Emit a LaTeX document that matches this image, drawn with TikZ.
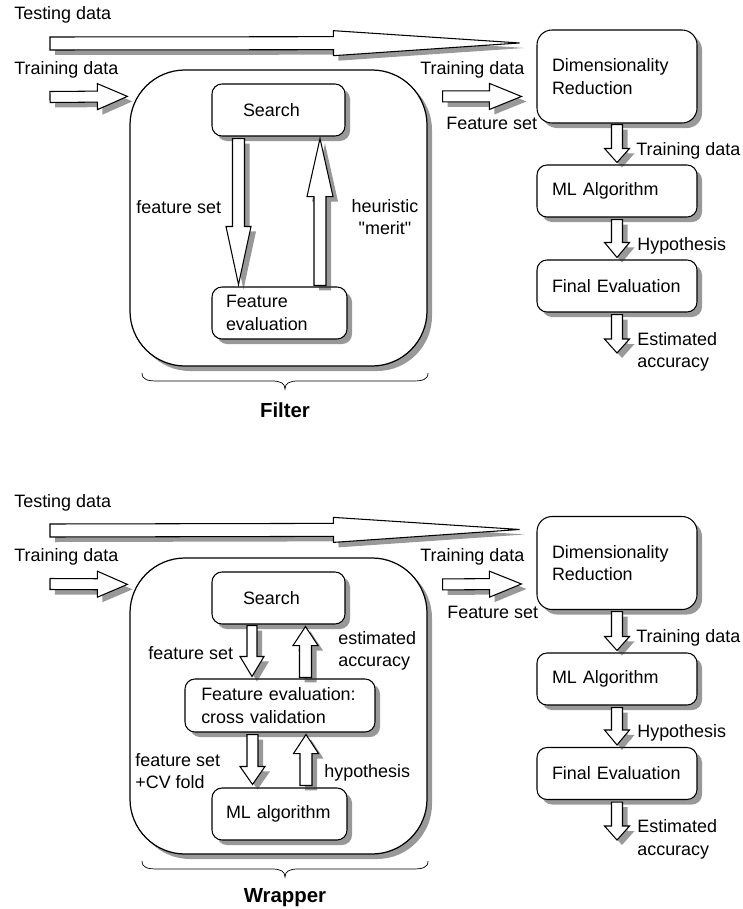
\documentclass[tikz,border=0pt]{standalone}
\usepackage{fontspec}
\setmainfont{Liberation Sans}
\usetikzlibrary{calc,shadows}

\newcommand{\txtfont}{\fontsize{10.2}{12.8}\selectfont}

\tikzset{
  shadowed/.style={drop shadow={shadow xshift=1mm, shadow yshift=-1mm, fill=black!80}},
  box/.style={draw, line width=0.6pt, fill=white, rounded corners=2mm, shadowed, font=\txtfont,
    align=left, inner xsep=2.8mm, inner ysep=0pt, minimum height=10.4mm},
  bigbox/.style={draw, line width=0.7pt, fill=white, rounded corners=11mm, shadowed,
    minimum width=59.4mm, minimum height=59.2mm},
  lbl/.style={inner sep=0pt, anchor=west, align=left, font=\txtfont},
  title/.style={inner sep=0pt, font=\fontsize{11.6}{14}\selectfont\bfseries},
  curly/.style={line width=0.4pt},
  fat/.style args={#1/#2/#3}{draw, line width=0.6pt, fill=white, shadowed,
    to path={let \p1=(\tikztostart), \p2=(\tikztotarget), \p3=($(\p2)!#3!(\p1)$) in
      ($(\p1)!#1!90:(\p2)$) -- ($(\p3)!#1!-90:(\p1)$) -- ($(\p3)!#2!-90:(\p1)$) -- (\p2)
      -- ($(\p3)!#2!90:(\p1)$) -- ($(\p3)!#1!90:(\p1)$) -- ($(\p1)!#1!-90:(\p2)$) -- cycle}}
}

\begin{document}
\begin{tikzpicture}[x=0.2mm,y=-0.2mm]
        %\draw [help lines] (0,0) grid[step=50] (743,909);
        \useasboundingbox (0,0) rectangle (743,909);

        % filter
        \node [bigbox] (filter) at (278.5,218) {};
        \node [box, inner xsep=6.2mm, text width=14.2mm] (srch1) at (278.5,110) {Search};
        \node [box, text width=21.4mm] (feval1) at (279.5,313) {Feature\\evaluation};

        \node [box, rounded corners=3mm, inner xsep=3mm, text width=26mm, minimum height=18.6mm] (dim1) at (617,76.5) {Dimensionality\\Reduction};
        \node [box, inner xsep=3mm, text width=26mm] (learn1) at (617,191) {ML Algorithm};
        \node [box, inner xsep=3mm, text width=26mm] (fin1) at (617,286) {Final Evaluation};

        \coordinate (test1) at (50,43.5);
        \coordinate (train1) at (50,97);
        \coordinate (acc1) at (617,353);

        \draw [fat=1.3mm/2.5mm/37.2mm] (test1) to ($(dim1.north west)+(-17,13.5)$);
        \draw [fat=1.1mm/2.6mm/6mm] (train1) to ($(filter.north west)+(-2,27)$);
        \draw [fat=1.1mm/2.6mm/6.4mm] ($(filter.north east)+(15,27)$) to ($(dim1.north west)+(-15,67)$);
        \draw [fat=1.2mm/2.5mm/11.6mm] ($(srch1.south)+(-40,2)$) to ($(feval1.north)+(-41,-2)$);
        \draw [fat=1.2mm/2.6mm/11.6mm] ($(feval1.north)+(40.5,-1)$) to ($(srch1.south)+(41.5,2)$);
        \draw [fat=1.1mm/2.5mm/2.8mm] ($(dim1.south)+(0,1)$) to ($(learn1.north)+(0,-2)$);
        \draw [fat=1.1mm/2.5mm/3mm] ($(learn1.south)+(0,2)$) to ($(fin1.north)+(0,-2)$);
        \draw [fat=1.1mm/2.5mm/2.8mm] ($(fin1.south)+(0,2)$) to (acc1);

        \node [lbl] (ltest1) at (14,15) {Testing data};
        \node [lbl] (ltrain1) at (14,70) {Training data};
        \node [lbl] (ltrainr1) at (420,70) {Training data};
        \node [lbl] (lfeat1) at (446,123) {Feature set};
        \node [lbl] (lfs1) at (136,207) {feature set};
        \node [inner sep=0pt, align=center, font=\txtfont] (lheur) at (385,217) {heuristic\\\textquotedbl merit\textquotedbl};
        \node [lbl] (ltd1) at (636,151) {Training data};
        \node [lbl] (lhyp1) at (637,246) {Hypothesis};
        \node [lbl] (lacc1) at (637,352) {Estimated\\accuracy};

        % brace under the filter
        \draw [curly] (142,373) .. controls (142,380) and (148,381) .. (158,381) -- (272,381)
              .. controls (280,381) and (285,383) .. (285,389) .. controls (285,383) and (290,381) .. (298,381)
              -- (412,381) .. controls (422,381) and (428,380) .. (428,373);
        \node [title] (lfilter) at (285,410) {Filter};

        % wrapper
        \node [bigbox] (wrapper) at (278.5,706) {};
        \node [box, inner xsep=6.2mm, text width=14.2mm] (srch2) at (278.5,598) {Search};
        \node [box, inner xsep=3.25mm, text width=31.5mm, minimum height=10.6mm] (cv2) at (280,705.5) {Feature evaluation:\\cross validation};
        \node [box, text width=21.4mm] (mlalg) at (279.5,814) {ML algorithm};

        \node [box, rounded corners=3mm, inner xsep=3mm, text width=26mm, minimum height=18.6mm] (dim2) at (617,563) {Dimensionality\\Reduction};
        \node [box, inner xsep=3mm, text width=26mm] (learn2) at (617,679) {ML Algorithm};
        \node [box, inner xsep=3mm, text width=26mm] (fin2) at (617,773.5) {Final Evaluation};

        \coordinate (test2) at (50,530.5);
        \coordinate (train2) at (50,584);
        \coordinate (acc2) at (617,840);

        \draw [fat=1.3mm/2.5mm/37.2mm] (test2) to ($(dim2.north west)+(-17,13.5)$);
        \draw [fat=1.1mm/2.6mm/6mm] (train2) to ($(wrapper.north west)+(-2,27)$);
        \draw [fat=1.1mm/2.6mm/6.4mm] ($(wrapper.north east)+(15,27)$) to ($(dim2.north west)+(-15,68)$);
        \draw [fat=1mm/2.4mm/4mm] ($(srch2.south)+(-26.5,1)$) to ($(cv2.north)+(-28,-2)$);
        \draw [fat=1.2mm/2.5mm/3.8mm] ($(cv2.north)+(25.5,-1)$) to ($(srch2.south)+(27,2)$);
        \draw [fat=1.1mm/2.5mm/3.6mm] ($(cv2.south)+(-27.5,2)$) to ($(mlalg.north)+(-27,-3)$);
        \draw [fat=1.2mm/2.5mm/3.8mm] ($(mlalg.north)+(26.5,-2)$) to ($(cv2.south)+(26,2)$);
        \draw [fat=1.1mm/2.5mm/2.8mm] ($(dim2.south)+(0,1.5)$) to ($(learn2.north)+(0,-2)$);
        \draw [fat=1.1mm/2.5mm/3mm] ($(learn2.south)+(0,2)$) to ($(fin2.north)+(0,-2)$);
        \draw [fat=1.1mm/2.5mm/2.8mm] ($(fin2.south)+(0,2)$) to (acc2);

        \node [lbl] (ltest2) at (14,503) {Testing data};
        \node [lbl] (ltrain2) at (14,557) {Training data};
        \node [lbl] (ltrainr2) at (420,557) {Training data};
        \node [lbl] (lfeat2) at (447,612) {Feature set};
        \node [lbl] (lfs2) at (148,653) {feature set};
        \node [lbl] (lest) at (338,651) {estimated\\accuracy};
        \node [lbl] (lfscv) at (135,771) {feature set\\+CV fold};
        \node [lbl] (lhyp) at (324,773) {hypothesis};
        \node [lbl] (ltd2) at (636,638) {Training data};
        \node [lbl] (lhyp2) at (637,733) {Hypothesis};
        \node [lbl] (lacc2) at (637,839.5) {Estimated\\accuracy};

        % brace under the wrapper
        \draw [curly, shift={(0,488)}] (142,373) .. controls (142,380) and (148,381) .. (158,381) -- (272,381)
              .. controls (280,381) and (285,383) .. (285,389) .. controls (285,383) and (290,381) .. (298,381)
              -- (412,381) .. controls (422,381) and (428,380) .. (428,373);
        \node [title] (lwrap) at (285,898) {Wrapper};

\end{tikzpicture}
\end{document}
